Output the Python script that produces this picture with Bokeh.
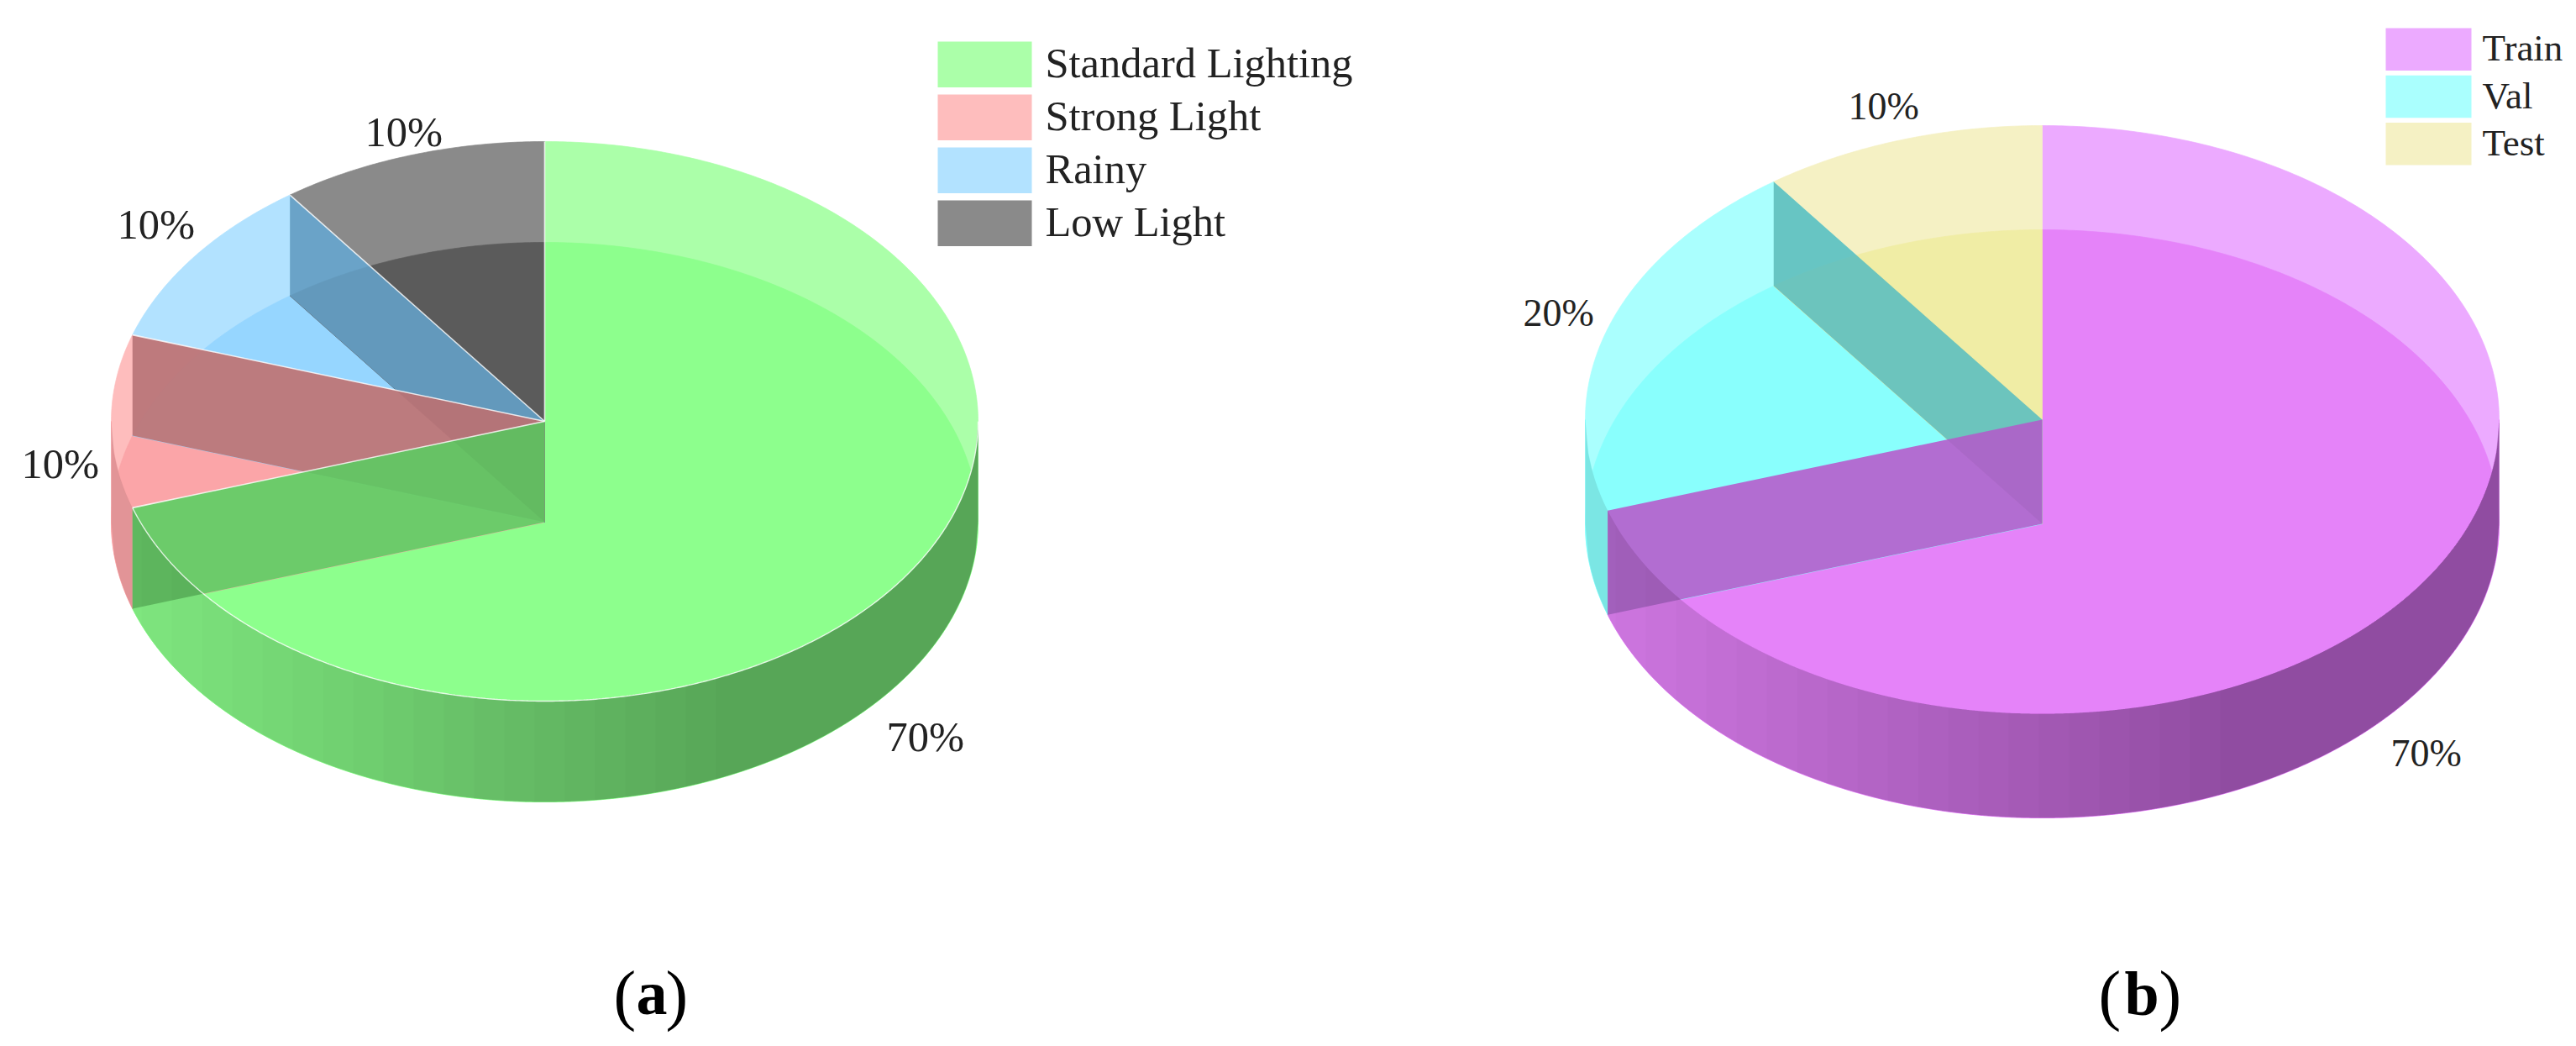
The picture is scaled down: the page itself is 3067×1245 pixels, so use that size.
import numpy as np
from bokeh.plotting import figure
from bokeh.models import Range1d
from bokeh.core.properties import value
from bokeh.embed import file_html
from bokeh.resources import INLINE

# ---------- data ----------
a_names = ["Standard Lighting", "Strong Light", "Rainy", "Low Light"]
a_shares = [70, 10, 10, 10]
a_labels = ["70%", "10%", "10%", "10%"]
b_names = ["Train", "Val", "Test"]
b_shares = [70, 20, 10]
b_labels = ["70%", "20%", "10%"]

# ---------- style ----------
a_light = ["#ABFFA9", "#FEBDBD", "#B2E2FF", "#8A8A8A"]
a_full = ["#8DFF8D", "#FBA5A8", "#96D6FF", "#5B5B5B"]
a_wall = ["#69CC69", "#BD787B", "#649EC4"]
a_wall_alpha = [0.98, 0.98, 0.93]
b_light = ["#ECAAFF", "#AAFFFE", "#F5F1C4"]
b_full = ["#E583F9", "#89FFFD", "#F0EDA5"]
b_wall = ["#B36AD0", "#62C1BE"]
b_wall_alpha = [0.98, 0.93]

FONT = "Liberation Serif"
INK = "#222222"
BASE_SHIFT = 0.36  # Bokeh's svg text sits this many em under the requested baseline

p = figure(width=3060, height=1240, x_range=Range1d(0, 3060), y_range=Range1d(1240, 0),
           output_backend="svg", toolbar_location=None, min_border=0,
           outline_line_color=None, background_fill_color="white", border_fill_color="white")
p.axis.visible = False
p.grid.visible = False


def pt(th, cx, cy, rx, ry):
    t = np.radians(th)
    return cx + rx * np.sin(t), cy - ry * np.cos(t)


def sector(a, b, cx, cy, rx, ry):
    th = np.linspace(a, b, max(3, int(abs(b - a) * 2) + 1))
    x, y = pt(th, cx, cy, rx, ry)
    return [cx] + list(x), [cy] + list(y)


def pie3d(shares, light, full, wall, wall_alpha, cx, cy, rx, ry, h, sep):
    edges = np.concatenate([[0.0], np.cumsum(shares) * 3.6])
    n = len(shares)
    # top surface
    xs, ys = [], []
    for i in range(n):
        x, y = sector(edges[i], edges[i + 1], cx, cy, rx, ry)
        xs.append(x); ys.append(y)
    p.patches(xs, ys, fill_color=light, line_color=light, line_width=0.7)
    # floor seen through the top
    xs, ys = [], []
    for i in range(n):
        x, y = sector(edges[i], edges[i + 1], cx, cy + h, rx, ry)
        xs.append(x); ys.append(y)
    p.patches(xs, ys, fill_color=full, line_color=full, line_width=0.7)
    # curved outer wall, base colour
    xs, ys, cs = [], [], []
    for i in range(n):
        a, b = max(edges[i], 90.0), min(edges[i + 1], 270.0)
        if b <= a:
            continue
        th = np.linspace(a, b, int((b - a) * 2) + 2)
        x, y = pt(th, cx, cy, rx, ry)
        xs.append(list(x) + list(x[::-1]))
        ys.append(list(y) + list((y + h)[::-1]))
        cs.append(full[i])
    p.patches(xs, ys, fill_color=cs, line_color=cs, line_width=0.7)
    # radial walls (at the closing edge of each slice), nearest one painted last
    for i in reversed(range(n - 1)):
        ex, ey = pt(edges[i + 1], cx, cy, rx, ry)
        p.patch([cx, ex, ex, cx], [cy, ey, ey + h, cy + h], fill_color=wall[i],
                fill_alpha=wall_alpha[i], line_color=None)
    # slightly darker wedge of each wall where the next slice's floor lies below it
    xs, ys = [], []
    for i in range(n - 2):
        ex, ey = pt(edges[i + 1], cx, cy, rx, ry)
        fx, fy = pt(edges[i + 2], cx, cy + h, rx, ry)
        d1 = np.array([ex - cx, ey - cy]); d2 = np.array([fx - cx, fy - cy - h])
        s, _ = np.linalg.solve(np.array([d1, -d2]).T, np.array([0.0, h]))
        xs.append([cx, cx + s * d1[0], cx]); ys.append([cy, cy + s * d1[1], cy + h])
    if xs:
        p.patches(xs, ys, fill_color="black", fill_alpha=0.035, line_color=None)
    # shading of the curved wall: nested bands, each starting further right, so no seams
    x0, x1 = int(np.floor(cx - rx)), int(np.ceil(cx + rx))
    x_flat = x0 + 0.72 * (x1 - x0)
    stops = np.arange(x0, x_flat, 36)
    prev = 0.0
    xs, ys, al = [], [], []
    for l in stops:
        target = 0.10 + 0.23 * (l - x0) / (x_flat - x0)
        d = 1 - (1 - target) / (1 - prev)
        prev = target
        xx = np.linspace(l, x1, 300)
        yy = ry * np.sqrt(np.clip(1 - ((xx - cx) / rx) ** 2, 0, 1))
        xs.append(list(xx) + list(xx[::-1]))
        ys.append(list(cy + yy) + list((cy + h + yy)[::-1]))
        al.append(float(d))
    p.patches(xs, ys, fill_color="black", fill_alpha=al, line_color=None)
    # white separators
    if sep:
        for e in edges[:-1]:
            ex, ey = pt(e, cx, cy, rx, ry)
            p.line([cx, ex], [cy, ey], line_color="white", line_width=1.6, line_alpha=0.8)
        th = np.linspace(90, edges[1], 400)
        x, y = pt(th, cx, cy, rx, ry)
        p.line(x, y, line_color="white", line_width=1.4, line_alpha=0.8)


def put_text(xs, ys, txt, size, color=INK, style="normal"):
    p.text(x=list(xs), y=[v - BASE_SHIFT * size for v in ys], text=txt, text_font=value(FONT),
           text_font_size=f"{size}px", text_font_style=style, text_color=color,
           text_baseline="alphabetic", text_align="left")


def legend(names, colors, x0, x1, top, pitch, hgt, tx, base, size):
    tops = top + pitch * np.arange(len(names))
    p.quad(left=x0, right=x1, top=tops, bottom=tops + hgt, fill_color=colors, line_color=None)
    put_text([tx] * len(names), tops + base, names, size)


def caption(letter, x_open, x_letter, x_close, y_paren, y_letter):
    put_text([x_open, x_close], [y_paren, y_paren], ["(", ")"], 80, "black")
    put_text([x_letter], [y_letter], [letter], 74, "black", "bold")


pie3d(a_shares, a_light, a_full, a_wall, a_wall_alpha, 648, 501, 516, 333, 120, True)
pie3d(b_shares, b_light, b_full, b_wall, b_wall_alpha, 2431, 499, 544, 350, 124, False)

legend(a_names, a_light, 1116, 1228, 49, 63, 54.5, 1244, 44, 50.5)
legend(b_names, b_light, 2840, 2942, 33, 56.2, 50.5, 2955, 40, 45)

put_text([1055, 25, 139, 434], [895, 570, 285, 175], a_labels, 50.5)
put_text([2846, 1813, 2200], [913, 389, 143], b_labels, 46)

caption("a", 730, 757, 792, 1212, 1208.5)
caption("b", 2498, 2529, 2570, 1212, 1209)

open("out.html", "w").write(file_html(p, INLINE))
